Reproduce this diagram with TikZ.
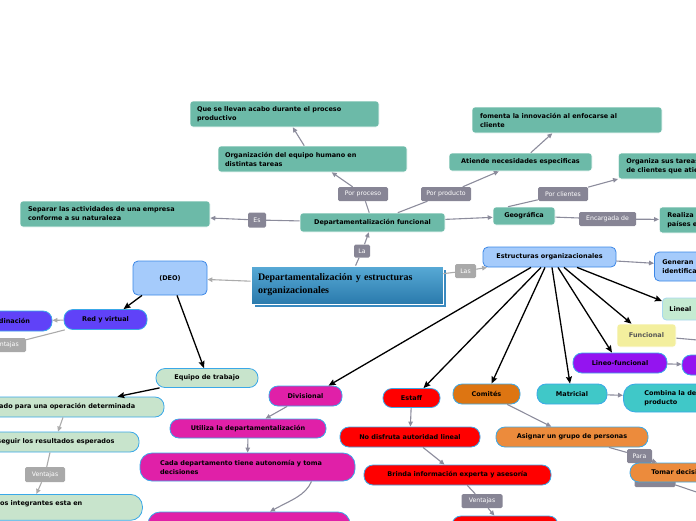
\documentclass[tikz,border=0pt]{standalone}
\usepackage{fontspec}
\setsansfont{DejaVu Sans}
\newfontfamily\titlefont{Liberation Serif}
\usetikzlibrary{arrows.meta}

\definecolor{tealbox}{HTML}{6CBAA8}
\definecolor{lblgray}{HTML}{878595}
\definecolor{lbllight}{HTML}{A9A9A9}
\definecolor{arrgray}{HTML}{8C8C9C}
\definecolor{arrlight}{HTML}{ABABAB}
\definecolor{bluefill}{HTML}{A5CBFB}
\definecolor{blueline}{HTML}{3C87E6}
\definecolor{pillline}{HTML}{3AA8E8}
\definecolor{greenc}{HTML}{C8E4CC}
\definecolor{violetc}{HTML}{6042F8}
\definecolor{magc}{HTML}{E020A8}
\definecolor{redc}{HTML}{FF0000}
\definecolor{orangedark}{HTML}{DD7512}
\definecolor{orangec}{HTML}{EC8B3C}
\definecolor{cyanc}{HTML}{40C8C8}
\definecolor{linealfill}{HTML}{C5EBD2}
\definecolor{linealline}{HTML}{A8D8F0}
\definecolor{yellowc}{HTML}{F3EF9E}
\definecolor{funcgray}{HTML}{555555}
\definecolor{purplec}{HTML}{9414F0}
\definecolor{titletop}{HTML}{58AAD6}
\definecolor{titlebot}{HTML}{2A7AAC}
\definecolor{titleshadow}{HTML}{3A8AC0}

\tikzset{
  mapnode/.style={draw=white, line width=0.6pt, rounded corners=3pt, inner sep=0pt,
    text=black, font=\sffamily\bfseries\fontsize{6.5}{9}\selectfont},
  tealnode/.style={mapnode, fill=tealbox},
  bluenode/.style={mapnode, fill=bluefill, draw=blueline, line width=0.8pt, rounded corners=5pt},
  pill/.style={mapnode, draw=pillline, line width=0.8pt, rounded corners=9pt},
  lbl/.style={fill=lblgray, text=white, rounded corners=1.5pt, inner sep=0pt,
    minimum height=14pt, font=\sffamily\fontsize{6.2}{7}\selectfont},
  gline/.style={draw=arrgray, line width=1.1pt},
  garrow/.style={gline, -{Triangle[length=5pt,width=4.5pt]}},
  lline/.style={draw=arrlight, line width=1.1pt},
  larrow/.style={lline, -{Triangle[length=5pt,width=4.5pt]}},
  barrow/.style={draw=black, line width=1.3pt, -{Stealth[length=7pt,width=6pt,inset=1pt]}}
}

\begin{document}
\begin{tikzpicture}[x=1pt, y=-1pt]
\useasboundingbox (0,0) rectangle (696,520);
\clip (0,0) rectangle (696,520);

% centro
\fill[titleshadow, draw=white, line width=0.6pt] (254,269) rectangle (446,307);
\node[draw=white, line width=0.8pt, top color=titletop, bottom color=titlebot,
      text width=178pt, inner xsep=7pt, minimum height=38pt, align=left,
      font=\titlefont\bfseries\fontsize{10}{13}\selectfont] (central) at (347,285)
      {\hyphenpenalty=10000 Departamentalización y estructuras\\organizacionales};

% departamentalizacion funcional
\node[tealnode, minimum width=145pt, minimum height=19pt] (funcional) at (372.5,222.5) {Departamentalización funcional};
\node[tealnode, text width=175pt, inner xsep=7pt, minimum height=26pt, align=left] (equipohum) at (312.5,159) {Organización del equipo humano en\\distintas tareas};
\node[tealnode, text width=175pt, inner xsep=7pt, minimum height=26pt, align=left] (procesoprod) at (284.5,114) {Que se llevan acabo durante el proceso\\productivo};
\node[tealnode, text width=174pt, inner xsep=8pt, minimum height=26pt, align=left] (separar) at (115,214) {Separar las actividades de una empresa\\conforme a su naturaleza};
\node[tealnode, minimum width=143pt, minimum height=18pt] (atiende) at (520.5,162) {Atiende necesidades especificas};
\node[tealnode, text width=174pt, inner xsep=8pt, minimum height=26pt, align=left] (fomenta) at (567,120) {fomenta la innovación al enfocarse al\\cliente};
\node[tealnode, anchor=west, text width=174pt, inner xsep=8pt, minimum height=26pt, align=left] (organiza) at (618,166) {Organiza sus tareas por tipo\\de clientes que atiende};
\node[tealnode, minimum width=62pt, minimum height=18pt] (geografica) at (524,216) {Geográfica};
\node[tealnode, anchor=west, text width=174pt, inner xsep=8pt, minimum height=26pt, align=left] (realiza) at (659,220) {Realiza sus actividades en\\países extranjeros};

\node[lbl, minimum width=18pt, minimum height=15pt] (es) at (257,220) {Es};
\node[lbl, minimum width=50pt] (porproceso) at (363,194) {Por proceso};
\node[lbl, minimum width=50pt] (porproducto) at (446,194) {Por producto};
\node[lbl, minimum width=50pt] (porclientes) at (563,194) {Por clientes};
\node[lbl, minimum width=57pt] (encargada) at (607.5,219) {Encargada de};
\node[lbl, minimum width=16pt, minimum height=13pt] (la) at (362,251) {La};
\node[lbl, fill=lbllight, minimum width=21pt] (las) at (465.5,271) {Las};

% estructuras
\node[bluenode, minimum width=74pt, minimum height=34pt] (deo) at (170,278) {(DEO)};
\node[bluenode, minimum width=133pt, minimum height=20pt] (estructuras) at (549.5,257) {Estructuras organizacionales};
\node[bluenode, anchor=west, text width=90pt, inner xsep=8pt, minimum height=29pt, align=left] (generan) at (654,266.5) {Generan una mayor\\identificación};

\node[pill, fill=linealfill, draw=linealline, rounded corners=4pt, anchor=west, text width=60pt, inner xsep=7pt, minimum height=22pt, align=left] (lineal) at (662,309) {Lineal};
\node[mapnode, fill=yellowc, text=funcgray, minimum width=59pt, minimum height=23pt] (funcy) at (646.5,335.5) {Funcional};
\node[pill, fill=purplec, minimum width=94pt, minimum height=20pt] (lineo) at (620,363) {Lineo-funcional};
\node[pill, fill=purplec, minimum width=78pt, minimum height=20pt] (lineoext) at (721,365) {};
\node[pill, fill=cyanc, minimum width=70pt, minimum height=20pt] (matricial) at (572,394) {Matricial};
\node[pill, fill=cyanc, rounded corners=12pt, anchor=west, text width=180pt, inner xsep=21pt, minimum height=28pt, align=left] (combina) at (623,398) {Combina la departamentalización funcional y por\\producto};

\node[pill, fill=orangedark, minimum width=67pt, minimum height=20pt] (comites) at (486.5,394) {Comités};
\node[pill, fill=orangec, minimum width=152pt, minimum height=20pt] (asignar) at (572,437) {Asignar un grupo de personas};
\node[lbl, minimum width=41pt, minimum height=18pt] (tomarlbl) at (655,478) {};
\node[lbl, minimum width=25pt] (para) at (639.5,456) {Para};
\node[pill, fill=orangec, minimum width=106pt, minimum height=19pt] (tomar) at (683,472.5) {Tomar decisiones};

\node[pill, fill=redc, minimum width=57pt, minimum height=19pt] (estaff) at (411.5,398) {Estaff};
\node[pill, fill=redc, minimum width=140pt, minimum height=20pt] (nodisfruta) at (410,437) {No disfruta autoridad lineal};
\node[pill, fill=redc, minimum width=187pt, minimum height=20pt] (brinda) at (457.5,475) {Brinda información experta y asesoría};
\node[lbl, minimum width=41pt] (ventajasr) at (482,501) {Ventajas};
\node[pill, fill=redc, minimum width=106pt, minimum height=24pt] (redbottom) at (505,528) {};

\node[pill, fill=magc, minimum width=73pt, minimum height=20pt] (divisional) at (305.5,396) {Divisional};
\node[pill, fill=magc, minimum width=156pt, minimum height=19pt] (utiliza) at (248,428.5) {Utiliza la departamentalización};
\node[pill, fill=magc, rounded corners=12pt, text width=175pt, inner xsep=20pt, minimum height=28pt, align=left] (autonomia) at (247.5,467) {Cada departamento tiene autonomía y toma\\decisiones};
\node[pill, fill=magc, rounded corners=12pt, minimum width=202pt, minimum height=28pt] (magbottom) at (249,526) {};

% DEO
\node[pill, fill=violetc, minimum width=83pt, minimum height=20pt] (redvirtual) at (105.5,319.5) {Red y virtual};
\node[pill, fill=violetc, minimum width=92pt, minimum height=20pt] (coordinacion) at (6,321) {Coordinación};
\node[lbl, fill=lbllight, minimum width=41pt] (ventajast) at (5.5,345) {Ventajas};
\node[pill, fill=greenc, minimum width=102pt, minimum height=19pt] (equipo) at (207,378) {Equipo de trabajo};
\node[pill, fill=greenc, minimum width=206pt, minimum height=20pt] (creado) at (61,407) {Creado para una operación determinada};
\node[pill, fill=greenc, minimum width=180pt, minimum height=20pt] (conseguir) at (49,442) {Conseguir los resultados esperados};
\node[lbl, fill=lbllight, minimum width=40pt, minimum height=15pt] (ventajasl) at (45,474.5) {Ventajas};
\node[pill, fill=greenc, rounded corners=12pt, anchor=north west, text width=172pt, inner xsep=20pt, inner ysep=6pt, align=left] (integrantes) at (-70,494) {Cada uno de los integrantes esta en\\~};

\coordinate (funcext) at (720,342);
\coordinate (tomarext) at (720,500);

% conexiones
\draw[gline] (funcional) -- (es);
\draw[garrow] (es) -- (separar);
\draw[gline] (funcional) -- (porproceso);
\draw[garrow] (porproceso) -- (equipohum);
\draw[garrow] (equipohum) -- (procesoprod);
\draw[gline] (funcional) -- (porproducto);
\draw[garrow] (porproducto) -- (atiende);
\draw[garrow] (atiende) -- (fomenta);
\draw[garrow] (funcional) -- (geografica);
\draw[gline] ([xshift=-16pt]geografica.north) -- (porclientes);
\draw[garrow] (porclientes) -- ([yshift=-13pt]organiza.west);
\draw[gline] (geografica) -- (encargada);
\draw[garrow] (encargada) -- (realiza);

\draw[gline] (central) -- (la);
\draw[garrow] (la) -- (funcional);
\draw[larrow] (central) -- (deo);
\draw[lline] (central) -- (las);
\draw[larrow] (las) -- (estructuras);
\draw[garrow] (estructuras) -- (generan);

\draw[barrow] ([xshift=-18.5pt]estructuras.south) -- ([xshift=23pt]divisional.north);
\draw[barrow] ([xshift=-8.5pt]estructuras.south) -- ([xshift=12pt]estaff.north);
\draw[barrow] ([xshift=-4.5pt]estructuras.south) -- ([xshift=5pt]comites.north);
\draw[barrow] ([xshift=2.5pt]estructuras.south) -- ([xshift=-2pt]matricial.north);
\draw[barrow] ([xshift=8.5pt]estructuras.south) -- ([xshift=-8pt]lineo.north);
\draw[barrow] ([xshift=14.5pt]estructuras.south) -- ([xshift=-15pt]funcy.north);
\draw[barrow] ([xshift=27.5pt]estructuras.south) -- ([yshift=8pt]lineal.west);

\draw[garrow] (lineo) -- (lineoext);
\draw[gline] (funcy) -- (funcext);
\draw[garrow] (matricial) -- (combina);
\draw[garrow] (comites) -- (asignar);
\draw[gline] (asignar) -- (para);
\draw[garrow] (para) -- (tomar);
\draw[gline] (tomarlbl) -- (tomarext);

\draw[garrow] (estaff) -- (nodisfruta);
\draw[garrow] (nodisfruta) -- (brinda);
\draw[gline] (brinda) -- (ventajasr);
\draw[garrow] (ventajasr) -- (redbottom);

\draw[garrow] (divisional) -- (utiliza);
\draw[garrow] (utiliza) -- (autonomia);
\draw[garrow] ([xshift=64pt]autonomia.south) .. controls +(-6,14) and +(22,-12) .. ([xshift=21pt]magbottom.north);

\draw[barrow] ([xshift=-28pt]deo.south) -- ([xshift=18pt]redvirtual.north);
\draw[barrow] ([xshift=7pt]deo.south) -- ([xshift=-3pt]equipo.north);
\draw[larrow] (redvirtual) -- (coordinacion);
\draw[lline] (redvirtual) -- (ventajast);
\draw[barrow] ([xshift=4pt]equipo.south west) -- ([xshift=-47pt]creado.north east);
\draw[larrow] ([xshift=2pt]creado.south) -- ([xshift=9pt]conseguir.north);
\draw[lline] ([xshift=1pt]conseguir.south) -- (ventajasl);
\draw[larrow] (ventajasl) -- (integrantes.north);
\end{tikzpicture}
\end{document}
